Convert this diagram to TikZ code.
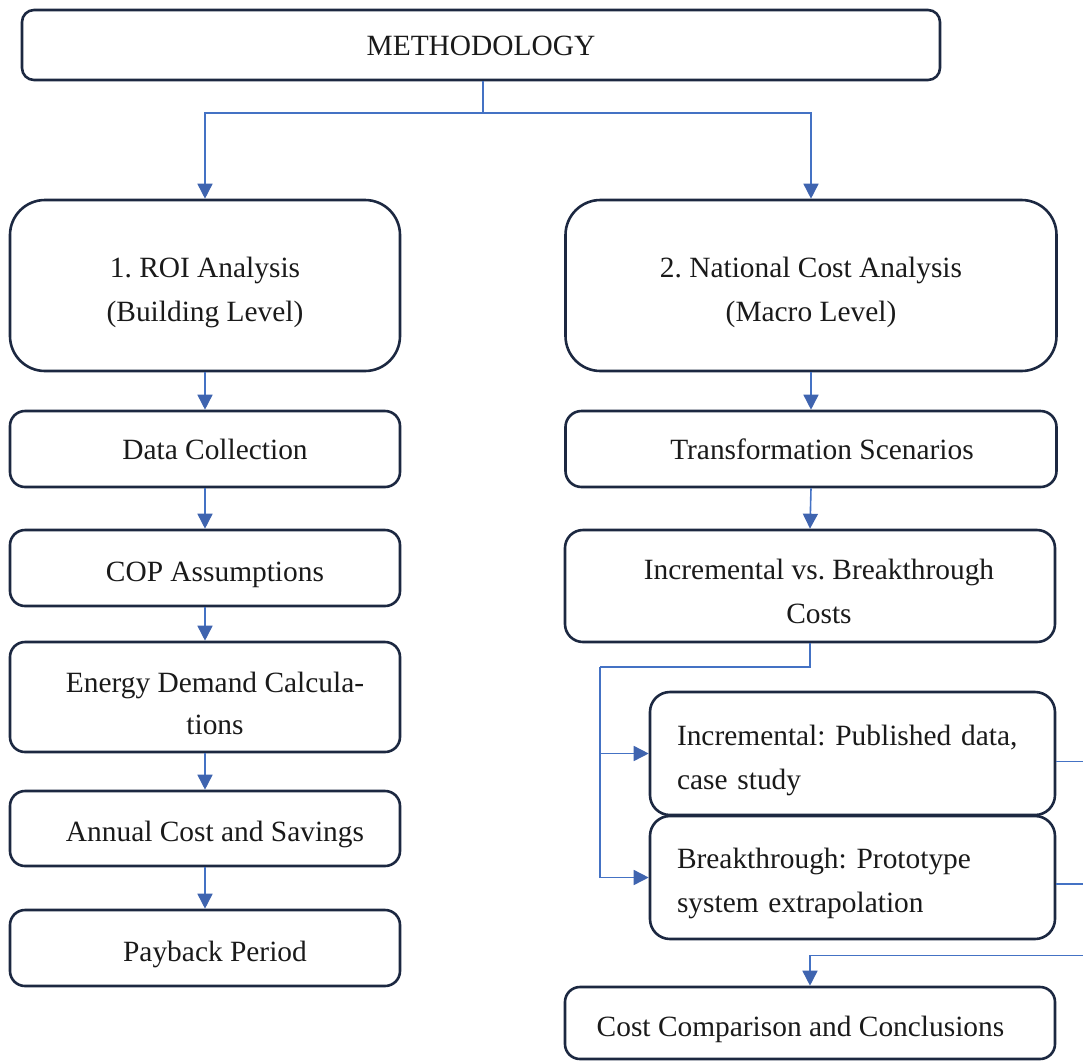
\documentclass[tikz,border=0pt]{standalone}
\usepackage{fontspec}
\setmainfont{Liberation Serif}
\usetikzlibrary{arrows.meta}
\definecolor{boxline}{HTML}{1C2841}
\definecolor{link}{HTML}{4472C4}
\definecolor{tipcol}{HTML}{3F64AF}
\definecolor{ink}{HTML}{1A1A1A}
\frenchspacing

% box text set as a small table, lowered without changing its size
\newcommand\boxtext[3][2.5pt]{%
  \raisebox{-#1}[\height][\depth]{\begin{tabular}{@{}#2@{}}#3\end{tabular}}}

\begin{document}
\begin{tikzpicture}[x=0.5pt,y=-0.5pt,
  box/.style={draw=boxline, line width=1.3pt, fill=white, text=ink,
    font=\fontsize{14.7}{22}\selectfont, inner sep=0pt},
  leftcol/.style={box, minimum width=195pt, rounded corners=7.5pt},
  rightcol/.style={box, minimum width=245.5pt, rounded corners=8pt},
  sidebox/.style={box, minimum width=202.5pt, minimum height=61.5pt,
    rounded corners=10pt, align=left, text width=175.5pt, inner xsep=13.5pt},
  conn/.style={draw=link, line width=0.8pt},
  arr/.style={conn, -{Triangle[length=7.5pt,width=7.5pt,color=tipcol]}}
]
\useasboundingbox (0,0) rectangle (1083,1061);

% top box
\node[box, minimum width=459pt, minimum height=35pt, rounded corners=6pt] (meth) at (481,45)
  {\boxtext[1pt]{c}{METHODOLOGY}};

% two main branches
\node[box, minimum width=195pt, minimum height=85.5pt, rounded corners=17.5pt] (roi) at (205,285.5)
  {\boxtext{c}{1. ROI Analysis\\(Building Level)}};
\node[box, minimum width=245.5pt, minimum height=85.5pt, rounded corners=17.5pt] (nat) at (811,285.5)
  {\boxtext{c}{2. National Cost Analysis\\(Macro Level)}};

% building-level steps
\node[leftcol, minimum height=38pt] (data) at (205,449)
  {\boxtext[0.8pt]{c}{\hspace*{10pt}Data Collection}};
\node[leftcol, minimum height=38pt] (cop) at (205,568)
  {\boxtext{c}{\hspace*{10pt}COP Assumptions}};
\node[leftcol, minimum height=55pt] (energy) at (205,697)
  {\boxtext[4pt]{c}{\hspace*{10pt}Energy Demand Calcula-\\[-1pt]\hspace*{10pt}tions}};
\node[leftcol, minimum height=37.5pt] (annual) at (205,828.5)
  {\boxtext[2pt]{c}{\hspace*{10pt}Annual Cost and Savings}};
\node[leftcol, minimum height=38pt] (payback) at (205,948)
  {\boxtext{c}{\hspace*{10pt}Payback Period}};

% macro-level steps
\node[rightcol, minimum height=38pt] (trans) at (811,449)
  {\boxtext[1pt]{c}{\hspace*{11pt}Transformation Scenarios}};
\node[rightcol, minimum width=245pt, minimum height=56pt, rounded corners=9pt] (incvs) at (810,586)
  {\boxtext[3.5pt]{c}{\hspace*{9pt}Incremental vs. Breakthrough\\\hspace*{9pt}Costs}};
\node[sidebox] (inc) at (852.5,753.5)
  {\boxtext[2.8pt]{l}{Incremental: Published data,\\case study}};
\node[sidebox] (brk) at (852.5,877.5)
  {\boxtext[2.2pt]{l}{Breakthrough: Prototype\\system extrapolation}};
\node[rightcol, minimum width=245pt, minimum height=36pt, rounded corners=7.5pt] (cost) at (810,1023)
  {\boxtext{c}{Cost Comparison and Conclusions\hspace*{9.5pt}}};

% connector waypoints
\coordinate (split) at (483,113);
\coordinate (fork) at (600,667);
\coordinate (incout) at (1083,761.5);
\coordinate (brkout) at (1083,884);
\coordinate (costin) at (1083,955.5);

% top split
\draw[conn] (meth.south -| split) -- (split);
\draw[arr] (split) -| (roi.north);
\draw[arr] (split) -| (nat.north);

% left chain
\draw[arr] (roi) -- (data);
\draw[arr] (data) -- (cop);
\draw[arr] (cop) -- (energy);
\draw[arr] (energy) -- (annual);
\draw[arr] (annual) -- (payback);

% right chain
\draw[arr] (nat) -- (trans);
\draw[arr] (trans.south) -- (incvs.north);
\draw[conn] (incvs.south) |- (fork);
\draw[arr] (fork) |- (inc.west);
\draw[arr] (fork) |- (brk.west);
\draw[conn] (inc.east |- incout) -- (incout);
\draw[conn] (brk.east |- brkout) -- (brkout);
\draw[arr] (costin) -| (cost.north);
\end{tikzpicture}
\end{document}
